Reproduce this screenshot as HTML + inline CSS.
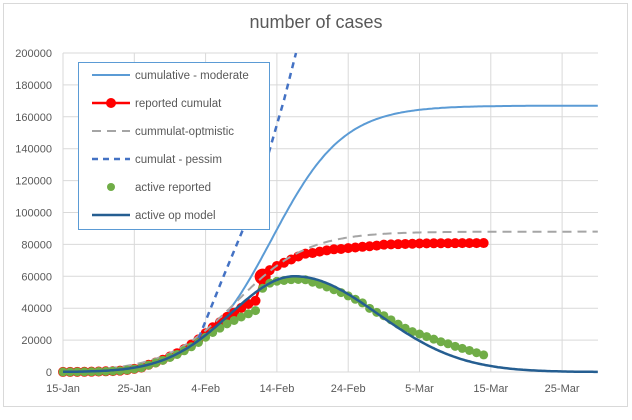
<!DOCTYPE html>
<html><head><meta charset="utf-8"><style>
body{margin:0;background:#fff;}
svg text{font-family:"Liberation Sans",sans-serif;}
</style></head><body>
<svg id="c" width="632" height="415" xmlns="http://www.w3.org/2000/svg">
<rect x="3.5" y="3.5" width="624" height="403" fill="#fff" stroke="#d9d9d9"/>
<text x="316" y="28" font-size="18" fill="#595959" text-anchor="middle">number of cases</text>
<g id="grid"></g>
<g id="series"></g>
<g>
<rect x="78.5" y="62.5" width="191" height="167" fill="#fff" stroke="#5B9BD5"/>
<line x1="92" y1="75" x2="130" y2="75" stroke="#5B9BD5" stroke-width="2"/>
<line x1="92" y1="103" x2="130" y2="103" stroke="#FF0000" stroke-width="2.5"/><circle cx="111" cy="103" r="5" fill="#FF0000"/>
<line x1="92" y1="131" x2="130" y2="131" stroke="#A5A5A5" stroke-width="2" stroke-dasharray="9,6"/>
<line x1="92" y1="159" x2="130" y2="159" stroke="#4472C4" stroke-width="2.5" stroke-dasharray="6,5"/>
<circle cx="111" cy="187" r="4" fill="#70AD47"/>
<line x1="92" y1="215" x2="130" y2="215" stroke="#255E91" stroke-width="2.5"/>
<g font-size="11.5" fill="#595959">
<text x="135" y="79">cumulative - moderate</text>
<text x="135" y="107">reported cumulat</text>
<text x="135" y="135">cummulat-optmistic</text>
<text x="135" y="163">cumulat - pessim</text>
<text x="135" y="191">active reported</text>
<text x="135" y="219">active op model</text>
</g></g>
</svg>
<script>
const NS="http://www.w3.org/2000/svg";
const X=d=>63+7.13*d, Y=v=>372-v*(319/200000);
function el(p,t,a){const e=document.createElementNS(NS,t);for(const k in a)e.setAttribute(k,a[k]);p.appendChild(e);return e;}
const g=document.getElementById('grid'),s=document.getElementById('series');
for(let i=0;i<=10;i++){const y=Y(i*20000);el(g,'line',{x1:63,x2:598,y1:y,y2:y,stroke:'#d9d9d9'});
 const t=el(g,'text',{x:52,y:y+4,'font-size':11,fill:'#595959','text-anchor':'end'});t.textContent=i*20000;}
const lab=['15-Jan','25-Jan','4-Feb','14-Feb','24-Feb','5-Mar','15-Mar','25-Mar'];
lab.forEach((l,i)=>{const x=X(i*10);el(g,'line',{x1:x,x2:x,y1:Y(200000),y2:372,stroke:'#d9d9d9'});
 const t=el(g,'text',{x:x,y:392,'font-size':11,fill:'#595959','text-anchor':'middle'});t.textContent=l;});
function path(f,d0,d1,attrs){let p='';for(let d=d0;d<=d1;d+=0.25){p+=(p?'L':'M')+X(d).toFixed(1)+','+Y(f(d)).toFixed(1);}attrs.d=p;attrs.fill='none';el(s,'path',attrs);}
path(d=>167000/(1+Math.exp(-0.2*(d-29.3))),0,75,{stroke:'#5B9BD5','stroke-width':2});
const cum=[50,60,100,130,200,291,440,571,830,1287,1975,2744,4515,5974,7711,9692,11791,14380,17205,20438,24324,28018,31161,34546,37198,40171,42638,44653,59804,63851,66492,68500,70548,72436,74185,74576,75465,76288,76936,77150,77658,78064,78497,78824,79251,79824,80026,80151,80270,80409,80552,80651,80695,80735,80754,80778,80793,80813,80824,80844];
let p='';cum.forEach((v,i)=>{p+=(i?'L':'M')+X(i)+','+Y(v);});
el(s,'path',{d:p,fill:'none',stroke:'#FF0000','stroke-width':2.5});
cum.forEach((v,i)=>el(s,'circle',{cx:X(i),cy:Y(v),r:i==28?8:5,fill:'#FF0000'}));
path(d=>88000/(1+Math.exp(-0.2*(d-24.3))),0,75,{stroke:'#A5A5A5','stroke-width':2,'stroke-dasharray':'9,6'});
el(s,'polyline',{points:'194,348 200,335 222,280 244,227 267,159 284,100 296,53',fill:'none',stroke:'#4472C4','stroke-width':2.5,'stroke-dasharray':'6,5'});
const act=[50,60,100,130,200,290,430,560,800,1250,1900,2650,4300,5700,7300,9100,11000,13300,15800,18500,21800,24800,27500,30200,32300,34500,36500,38500,52500,55700,56900,57400,57900,58000,57800,56300,55000,53300,51600,49800,47700,45600,43300,39900,37400,35300,32700,30000,27400,25300,23800,22200,20600,19000,17700,16100,14800,13500,12100,10700];
act.forEach((v,i)=>el(s,'circle',{cx:X(i),cy:Y(v),r:4.5,fill:'#70AD47'}));
path(d=>{const w=d<32.5?12.8:16.5;return 60000*Math.exp(-Math.pow((d-32.5)/w,2));},0,75,{stroke:'#255E91','stroke-width':2.5});
</script>
</body></html>
